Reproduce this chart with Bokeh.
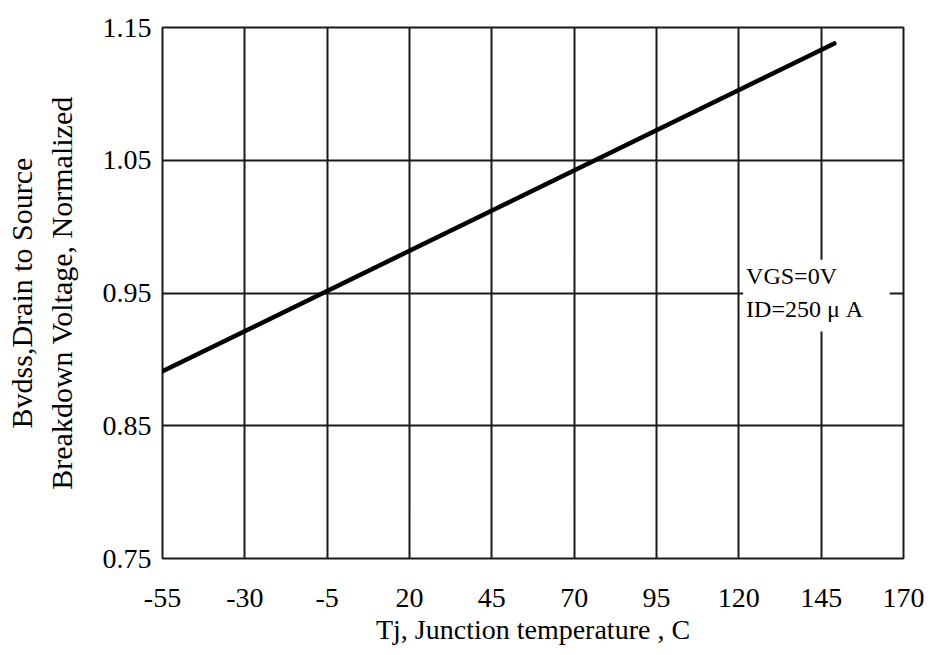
from bokeh.plotting import figure
from bokeh.models import FixedTicker, BoxAnnotation, Label, Range1d
from bokeh.embed import file_html
from bokeh.resources import INLINE

# ---- data ----
temp_c = [-55, 149]
bvdss_norm = [0.891, 1.138]
x_ticks = [-55, -30, -5, 20, 45, 70, 95, 120, 145, 170]
y_ticks = [0.75, 0.85, 0.95, 1.05, 1.15]
y_tick_labels = ["0.75", "0.85", "0.95", "1.05", "1.15"]
x_title = "Tj, Junction temperature , C"
y_title = "Bvdss,Drain to Source\nBreakdown Voltage, Normalized"
note_lines = ["VGS=0V", "ID=250 \u03bc A"]

FONT = "Liberation Serif"

p = figure(width=936, height=647, output_backend="svg", toolbar_location=None,
           x_range=Range1d(-55, 170), y_range=Range1d(0.75, 1.15),
           min_border_left=162, min_border_top=27, min_border_right=33,
           min_border_bottom=87, background_fill_color="white",
           border_fill_color="white")

p.outline_line_color = "#1a1a1a"
p.outline_line_width = 2

p.xaxis.ticker = FixedTicker(ticks=x_ticks)
p.yaxis.ticker = FixedTicker(ticks=y_ticks)
p.yaxis.major_label_overrides = {t: s for t, s in zip(y_ticks, y_tick_labels)}
p.xaxis.major_label_overrides = {t: str(t) for t in x_ticks}

for ax in (p.xaxis, p.yaxis):
    ax.axis_line_color = None
    ax.major_tick_line_color = None
    ax.minor_tick_line_color = None
    ax.major_label_text_font = FONT
    ax.major_label_text_font_size = "28px"
    ax.major_label_text_color = "black"
    ax.axis_label_text_font = FONT
    ax.axis_label_text_font_style = "normal"
    ax.axis_label_text_color = "black"

p.xaxis.axis_label = x_title
p.xaxis.axis_label_text_font_size = "28px"
p.xaxis.major_label_standoff = 24
p.xaxis.axis_label_standoff = 4

p.yaxis.axis_label = y_title
p.yaxis.axis_label_text_font_size = "30px"
p.yaxis.major_label_standoff = 5
p.yaxis.axis_label_standoff = 22

p.grid.grid_line_color = "#1a1a1a"
p.grid.grid_line_width = 2
p.xgrid.ticker = FixedTicker(ticks=x_ticks)
p.ygrid.ticker = FixedTicker(ticks=y_ticks)

p.line(temp_c, bvdss_norm, line_width=4.5, line_color="black", line_cap="round")

p.add_layout(BoxAnnotation(left=121.3, right=165.8, bottom=0.921, top=0.975,
                           fill_color="white", fill_alpha=1.0, line_alpha=0))
p.add_layout(Label(x=122.2, y=0.963, text=note_lines[0], text_font=FONT,
                   text_font_size="24px", text_baseline="middle", text_color="black"))
p.add_layout(Label(x=122.2, y=0.938, text=note_lines[1], text_font=FONT,
                   text_font_size="24px", text_baseline="middle", text_color="black"))

open("out.html", "w").write(file_html(p, INLINE))
